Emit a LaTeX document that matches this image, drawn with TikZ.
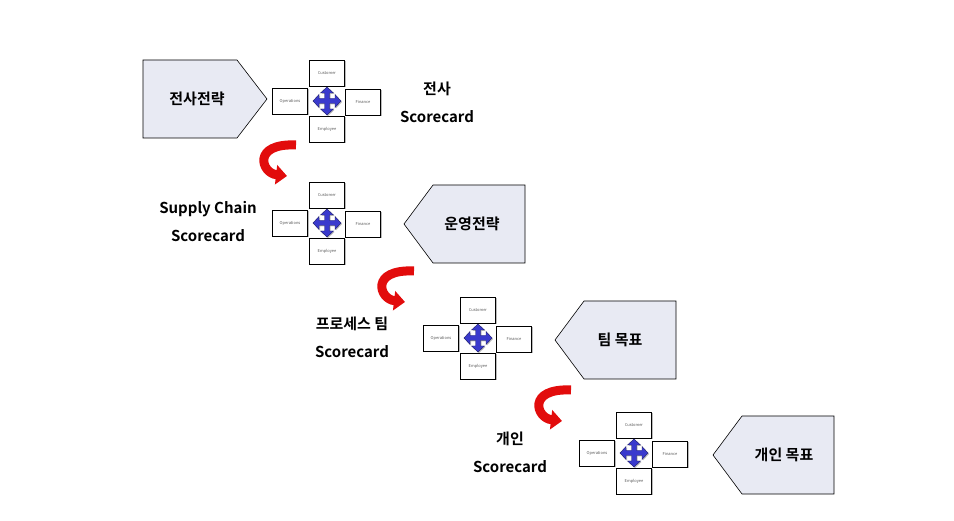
\documentclass[tikz,border=0pt]{standalone}
\usepackage{fontspec}
\setmainfont{Noto Sans CJK KR}[BoldFont={Noto Sans CJK KR Bold}]
\usetikzlibrary{arrows.meta,shadows}
\definecolor{pentfill}{RGB}{232,234,243}
\definecolor{crossblue}{RGB}{58,58,205}
\definecolor{arrowred}{RGB}{226,12,12}
\tikzset{
  card/.style={draw,fill=white,minimum width=35pt,minimum height=26pt,inner sep=0pt,
    font=\fontsize{4}{5}\selectfont,text=black!65,
    drop shadow={shadow xshift=1.2pt,shadow yshift=-1.2pt,fill=black!45,opacity=0.6}},
  lbl/.style={align=center,font=\bfseries\fontsize{15}{28}\selectfont},
  pent/.style={draw,fill=pentfill,line width=0.6pt},
  turn/.style={line width=9pt,arrowred,-{Triangle[width=19pt,length=11pt]}}
}
% pentagons: right-pointing from top left corner, left-pointing from tip
\def\PENR#1#2{\draw[pent] (#1,#2) -- ++(94,0) -- ++(30,39) -- ++(-30,39) -- ++(-94,0) -- cycle;}
\def\PENL#1#2{\draw[pent] (#1,#2) -- ++(29,-39) -- ++(92,0) -- ++(0,78) -- ++(-92,0) -- cycle;}
% four-way arrow
\def\CROSS{\filldraw[fill=crossblue,draw=crossblue!50!black,line width=0.4pt,
    drop shadow={shadow xshift=1pt,shadow yshift=-1pt,fill=black!50,opacity=0.5}]
  (2.5,-2.5) -- (8,-2.5) -- (8,-6.5) -- (14,0) -- (8,6.5) -- (8,2.5) -- (2.5,2.5)
  -- (2.5,8) -- (6.5,8) -- (0,14) -- (-6.5,8) -- (-2.5,8) -- (-2.5,2.5)
  -- (-8,2.5) -- (-8,6.5) -- (-14,0) -- (-8,-6.5) -- (-8,-2.5) -- (-2.5,-2.5)
  -- (-2.5,-8) -- (-6.5,-8) -- (0,-14) -- (6.5,-8) -- (2.5,-8) -- cycle;}
% scorecard cluster
\def\BSC#1#2#3{\begin{scope}[shift={(#2,#3)}]
  \node[card] (#1c) at (0,-28) {Customer};
  \node[card] (#1o) at (-37,0) {Operations};
  \node[card] (#1f) at (36,1) {Finance};
  \node[card] (#1e) at (0,28) {Employee};
  \CROSS
\end{scope}}

\begin{document}
\begin{tikzpicture}[x=1pt,y=-1pt]
\useasboundingbox (0,0) rectangle (954,521);

\PENR{143}{60}
\node[lbl] (g1) at (197,99) {전사전략};
\BSC{a}{327}{101}
\node[lbl] (s1) at (437,102) {전사\\Scorecard};

\coordinate (t1a) at (296,145);
\coordinate (t1b) at (287,176);
\draw[turn] (t1a) .. controls +(-44,-2) and +(-26,-3) .. (t1b);

\node[lbl] (s2) at (208,222) {Supply Chain\\Scorecard};
\BSC{b}{327}{223}
\PENL{404}{224}
\node[lbl] (g2) at (472,224) {운영전략};

\coordinate (t2a) at (414,271);
\coordinate (t2b) at (405,302);
\draw[turn] (t2a) .. controls +(-44,-2) and +(-26,-3) .. (t2b);

\node[lbl] (s3) at (352,337) {프로세스 팀\\Scorecard};
\BSC{c}{478}{338}
\PENL{555}{340}
\node[lbl] (g3) at (620,340) {팀 목표};

\coordinate (t3a) at (571,390);
\coordinate (t3b) at (562,421);
\draw[turn] (t3a) .. controls +(-44,-2) and +(-26,-3) .. (t3b);

\node[lbl] (s4) at (510,452) {개인\\Scorecard};
\BSC{d}{634}{453}
\PENL{713}{455}
\node[lbl] (g4) at (784,455) {개인 목표};
\end{tikzpicture}
\end{document}
